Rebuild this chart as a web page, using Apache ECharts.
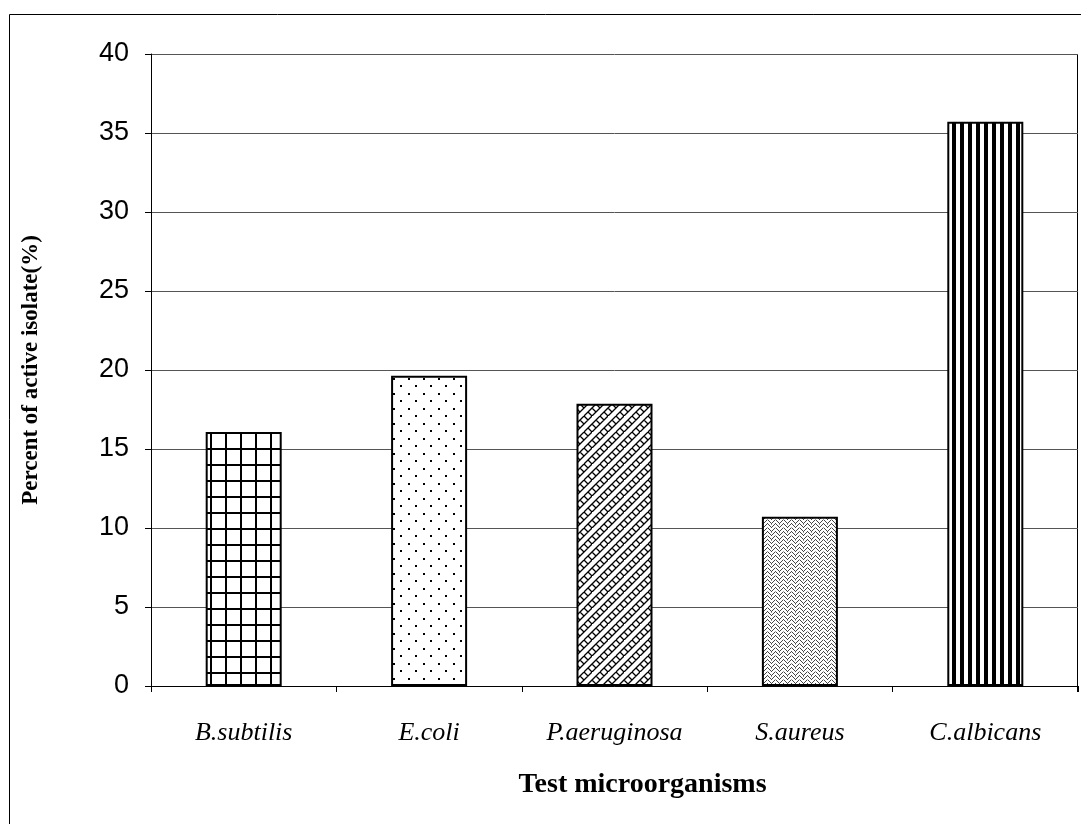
<!DOCTYPE html>
<html>
<head>
<meta charset="utf-8">
<script src="https://cdn.jsdelivr.net/npm/echarts@6/dist/echarts.min.js"></script>
<style>
html, body { margin: 0; padding: 0; background: #fff; }
#chart { width: 1081px; height: 824px; }
</style>
</head>
<body>
<div id="chart"></div>
<script>
var categories = ['B.subtilis', 'E.coli', 'P.aeruginosa', 'S.aureus', 'C.albicans'];
var percentActive = [16.07, 19.64, 17.86, 10.71, 35.71];
var yTicks = [0, 5, 10, 15, 20, 25, 30, 35, 40];

function tile(w, h, draw) {
    var c = document.createElement('canvas');
    c.width = w; c.height = h;
    var ctx = c.getContext('2d');
    ctx.fillStyle = '#fff';
    ctx.fillRect(0, 0, w, h);
    ctx.fillStyle = '#000';
    ctx.strokeStyle = '#000';
    draw(ctx);
    return { image: c, repeat: 'repeat' };
}

// square grid
var gridPat = tile(15, 16, function (ctx) {
    ctx.fillRect(0, 0, 2, 16);
    ctx.fillRect(0, 0, 15, 2);
});
// staggered dots
var dotPat = tile(15, 15, function (ctx) {
    ctx.fillRect(3, 3, 2, 2);
    ctx.fillRect(10, 10, 2, 2);
});
// diagonal brick
var brickPat = tile(16, 16, function (ctx) {
    ctx.lineWidth = 1.3;
    ctx.beginPath();
    ctx.moveTo(0, 16); ctx.lineTo(16, 0);
    ctx.moveTo(-8, 16); ctx.lineTo(8, 0);
    ctx.moveTo(8, 16); ctx.lineTo(24, 0);
    ctx.moveTo(4, 4); ctx.lineTo(8, 8);
    ctx.moveTo(12, 12); ctx.lineTo(16, 16);
    ctx.moveTo(0, 8); ctx.lineTo(4, 12);
    ctx.moveTo(8, 0); ctx.lineTo(12, 4);
    ctx.stroke();
});
// dense weave
var weavePat = tile(8, 8, function (ctx) {
    ctx.fillStyle = '#444';
    var px = [[0,0],[1,1],[2,2],[3,3],[4,2],[5,1],[6,0],[0,4],[1,5],[2,6],[3,7],[4,6],[5,5],[6,4],[7,3]];
    px.forEach(function (p) { ctx.fillRect(p[0], p[1], 1, 1); });
    ctx.fillStyle = '#999';
    ctx.fillRect(7, 7, 1, 1);
    ctx.fillRect(3, 4, 1, 1);
});
// vertical stripes
var stripePat = tile(8, 8, function (ctx) {
    ctx.fillRect(0, 0, 4, 8);
});

var patterns = [gridPat, dotPat, brickPat, weavePat, stripePat];

var option = {
    animation: false,
    backgroundColor: '#fff',
    grid: { left: 151, right: 3, top: 54, bottom: 138 },
    graphic: [{
        type: 'rect',
        shape: { x: 9.5, y: 14.5, width: 1200, height: 1000 },
        style: { fill: null, stroke: '#000', lineWidth: 1 },
        silent: true
    }, {
        type: 'line',
        shape: { x1: 1077.5, y1: 54, x2: 1077.5, y2: 692 },
        style: { stroke: '#000', lineWidth: 1 }
    }],
    xAxis: {
        type: 'category',
        data: categories,
        name: 'Test microorganisms',
        nameLocation: 'middle',
        nameGap: 85,
        nameTextStyle: { fontFamily: 'Liberation Serif', fontWeight: 'bold', fontSize: 28, color: '#000', padding: [0, 0, 0, 56] },
        axisLine: { lineStyle: { color: '#000', width: 1 } },
        axisTick: { show: true, inside: false, length: 6, lineStyle: { color: '#000' } },
        axisLabel: { fontFamily: 'Liberation Serif', fontStyle: 'italic', fontSize: 26, color: '#000', margin: 34 }
    },
    yAxis: {
        type: 'value',
        min: yTicks[0],
        max: yTicks[yTicks.length - 1],
        interval: 5,
        name: 'Percent of active isolate(%)',
        nameLocation: 'middle',
        nameGap: 108,
        nameTextStyle: { fontFamily: 'Liberation Serif', fontWeight: 'bold', fontSize: 23, color: '#000' },
        axisLine: { show: true, lineStyle: { color: '#000', width: 1 } },
        axisTick: { show: true, length: 6, lineStyle: { color: '#000' } },
        axisLabel: { fontFamily: 'Liberation Sans', fontSize: 27, color: '#000', margin: 22 },
        splitLine: { show: true, lineStyle: { color: '#555', width: 1 } }
    },
    series: [{
        type: 'bar',
        barWidth: '41%',
        data: percentActive.map(function (v, i) {
            return { value: v, itemStyle: { color: patterns[i] } };
        }),
        itemStyle: { borderColor: '#000', borderWidth: 2 }
    }]
};

var myChart = echarts.init(document.getElementById('chart'));
myChart.setOption(option);
</script>
</body>
</html>
